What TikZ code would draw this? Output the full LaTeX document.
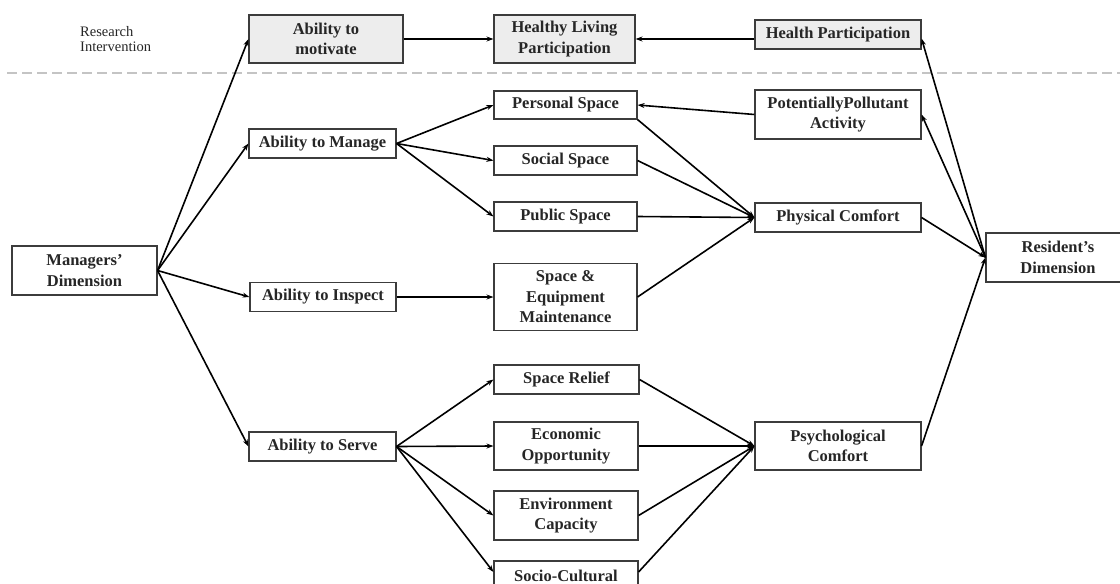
\documentclass[tikz,border=0pt]{standalone}
\usepackage{fontspec}
\setmainfont{Liberation Serif}
\usetikzlibrary{arrows.meta,calc}
\definecolor{boxgray}{HTML}{EDEDED}
\definecolor{boxline}{HTML}{3C3C3C}
\definecolor{dashgray}{HTML}{C4C4C4}
\begin{document}
\begin{tikzpicture}[x=1pt,y=-1pt,
  box/.style={draw=boxline, line width=1.1pt, fill=white, inner sep=1pt, align=center,
    font=\fontsize{16.5}{20.5}\selectfont\bfseries, text=black!85},
  gbox/.style={box, fill=boxgray},
  arr/.style={line width=1.6pt, -{Stealth[length=7pt,width=5pt]}},
  sep/.style={dashgray, line width=1.3pt, dash pattern=on 10pt off 5pt}
]
\useasboundingbox (0,0) rectangle (1120,584);
\fill[white] (0,0) rectangle (1120,584);

% separator
\coordinate (sepL) at (7,73);
\coordinate (sepR) at (1120,73);
\draw[sep] (sepL) -- (sepR);

\node[anchor=north west, align=left, inner sep=0pt, font=\fontsize{14.5}{15.5}\selectfont, text=black!85] (ri) at (80,26) {Research\\Intervention};

% top row
\node[gbox, minimum width=154pt, minimum height=48pt] (mot) at (326,39) {Ability to\\motivate};
\node[gbox, minimum width=141pt, minimum height=48pt] (hlp) at (564.5,39) {Healthy Living\\Participation};
\node[gbox, minimum width=166pt, minimum height=29pt] (hp) at (838,34.5) {Health Participation};

% left
\node[box, minimum width=145pt, minimum height=49pt] (md) at (84.5,270.5) {Managers'\\Dimension};
\node[box, minimum width=147pt, minimum height=29pt] (am) at (322.5,143.5) {Ability to Manage};
\node[box, minimum width=146pt, minimum height=29pt] (ai) at (323,297) {Ability to Inspect};
\node[box, minimum width=147pt, minimum height=29pt] (as) at (322.5,446.5) {Ability to Serve};

% middle column
\node[box, minimum width=143pt, minimum height=28pt] (ps) at (565.5,105) {Personal Space};
\node[box, minimum width=143pt, minimum height=29pt] (ss) at (565.5,160.5) {Social Space};
\node[box, minimum width=143pt, minimum height=29pt] (pub) at (565.5,216.5) {Public Space};
\node[box, minimum width=143pt, minimum height=67pt] (sem) at (565.5,297) {Space \&\\Equipment\\Maintenance};
\node[box, minimum width=145pt, minimum height=29pt] (sr) at (566.5,379.5) {Space Relief};
\node[box, minimum width=144pt, minimum height=48pt] (eo) at (566,446) {Economic\\Opportunity};
\node[box, minimum width=144pt, minimum height=49pt] (ec) at (566,515.5) {Environment\\Capacity};
\node[box, minimum width=144pt, minimum height=29pt] (sc) at (566,575.5) {Socio-Cultural};

% right column
\node[box, minimum width=166pt, minimum height=49pt] (ppa) at (838,114.5) {PotentiallyPollutant\\Activity};
\node[box, minimum width=166pt, minimum height=29pt] (pc) at (838,217.5) {Physical Comfort};
\node[box, minimum width=166pt, minimum height=48pt] (psy) at (838,446) {Psychological\\Comfort};
\node[box, minimum width=144pt, minimum height=49pt] (rd) at (1058,257.5) {Resident's\\Dimension};

% connectors
\draw[arr] (md.east) -- (mot.west);
\draw[arr] (md.east) -- (am.west);
\draw[arr] (md.east) -- (ai.west);
\draw[arr] (md.east) -- (as.west);
\draw[arr] (mot.east) -- (hlp.west);
\draw[arr] (hlp.east -| hp.west) -- (hlp.east);
\draw[arr] (am.east) -- (ps.west);
\draw[arr] (am.east) -- (ss.west);
\draw[arr] (am.east) -- (pub.west);
\draw[arr] (ai.east) -- (sem.west);
\draw[arr] (ppa.west) -- (ps.east);
\draw[arr] (ps.south east) -- (pc.west);
\draw[arr] (ss.east) -- (pc.west);
\draw[arr] (pub.east) -- (pc.west);
\draw[arr] (sem.east) -- (pc.west);
\draw[arr] (rd.west) -- ([yshift=-4pt]hp.east);
\draw[arr] (rd.west) -- (ppa.east);
\draw[arr] (pc.east) -- (rd.west);
\draw[arr] (psy.east) -- (rd.west);
\draw[arr] (as.east) -- (sr.west);
\draw[arr] (as.east) -- (eo.west);
\draw[arr] (as.east) -- (ec.west);
\draw[arr] (as.east) -- ([yshift=3.5pt]sc.west);
\draw[arr] (sr.east) -- (psy.west);
\draw[arr] (eo.east) -- (psy.west);
\draw[arr] (ec.east) -- (psy.west);
\draw[arr] ([yshift=3.5pt]sc.east) -- (psy.west);
\end{tikzpicture}
\end{document}
